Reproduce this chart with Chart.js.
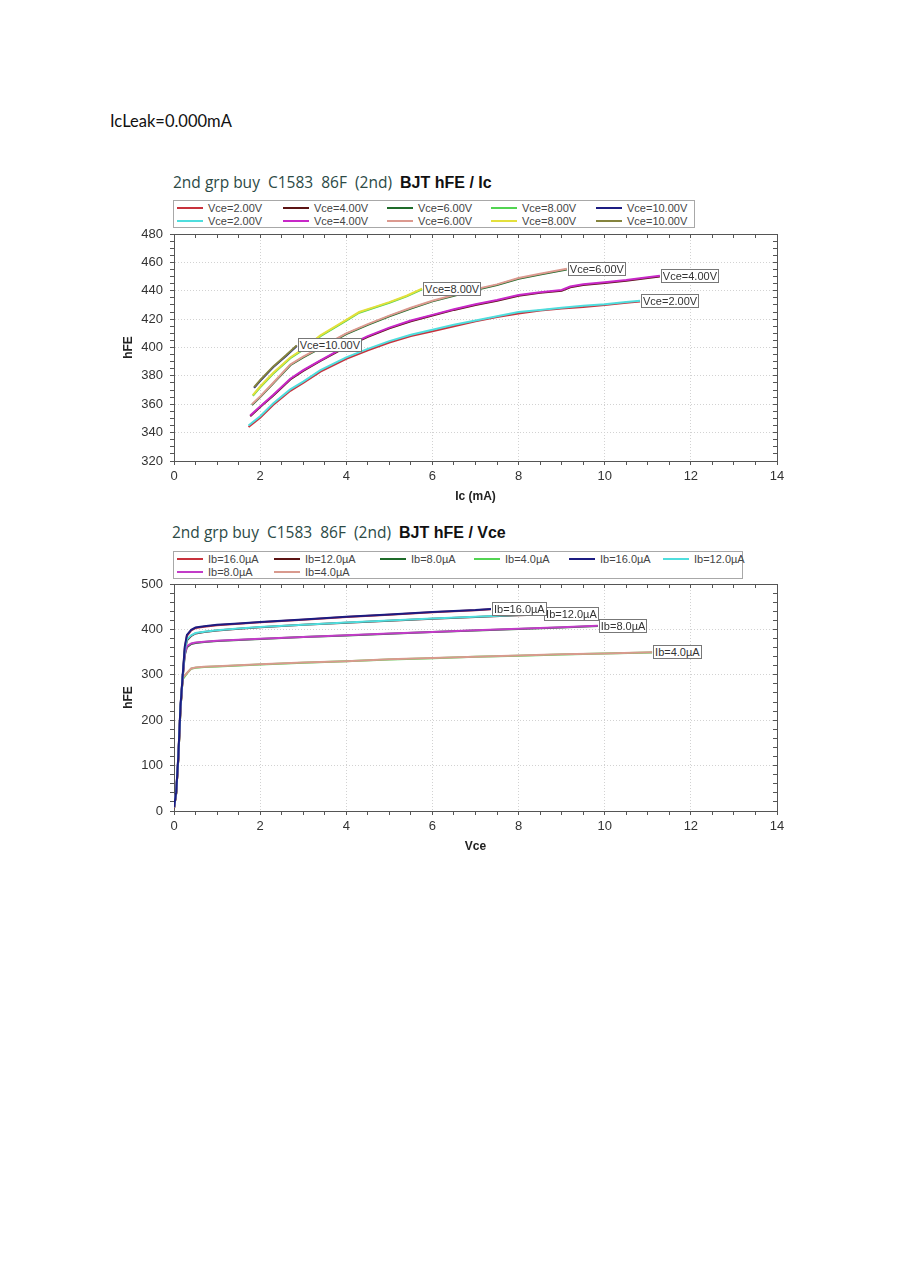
<!DOCTYPE html>
<html><head><meta charset="utf-8">
<script src="https://cdn.jsdelivr.net/npm/chart.js@4.4.0/dist/chart.umd.min.js"></script>
<style>
html,body{margin:0;padding:0;background:#fff;}
body{width:906px;height:1280px;position:relative;overflow:hidden;font-family:'Liberation Sans',Arial,sans-serif;}
#leak{position:absolute;left:110px;top:111px;font:16.5px Lato,'Open Sans',sans-serif;color:#111;white-space:nowrap;}
.ttl{position:absolute;white-space:pre;font:15.5px 'Open Sans',sans-serif;color:#2c4a46;line-height:20px;}
.ttl b{font:bold 16px 'Liberation Sans',Arial,sans-serif;color:#111;}
.leg{position:absolute;border:1px solid #a8a8a8;background:#fff;box-sizing:border-box;}
.li{position:absolute;font:11px 'Liberation Sans',Arial,sans-serif;color:#444;white-space:nowrap;line-height:12px;}
.li i{display:inline-block;width:26px;height:2px;vertical-align:middle;margin-right:5px;position:relative;top:-1px;}
canvas{position:absolute;}
.lbl{position:absolute;font:11px 'Liberation Sans',Arial,sans-serif;color:#333;background:#fff;border:1px solid #777;padding:0 1px;line-height:12px;white-space:nowrap;}
</style></head><body>
<div id="leak">IcLeak=0.000mA</div>
<div class="ttl" style="left:173px;top:172px;">2nd grp buy  C1583  86F  (2nd)  <b>BJT hFE / Ic</b></div>
<div class="leg" id="leg1" style="left:173px;top:200px;width:522px;height:28px;"></div>
<canvas id="c1" width="700" height="290" style="left:100px;top:226px;width:700px;height:290px;"></canvas>
<div class="ttl" style="left:172px;top:522px;">2nd grp buy  C1583  86F  (2nd)  <b>BJT hFE / Vce</b></div>
<div class="leg" id="leg2" style="left:173px;top:551px;width:570px;height:28px;"></div>
<canvas id="c2" width="700" height="290" style="left:100px;top:576px;width:700px;height:290px;"></canvas>
<script>
// ---------- Chart 1 : hFE vs Ic ----------
const vceNames = ['Vce=2.00V','Vce=4.00V','Vce=6.00V','Vce=8.00V','Vce=10.00V'];
const ic_v2  = [1.73,2.0,2.3,2.7,3.0,3.4,4.0,4.5,5.0,5.5,6.0,6.5,7.0,7.5,8.0,8.5,9.0,9.5,10.0,10.5,10.82];
const hfeA_v2= [344,350.5,359.5,369.5,375,383,392,398,403.5,408,411.5,415,418.5,421.5,424,426,427.5,428.5,430,431.5,432.5];
const hfeB_v2= [345,351.5,360.5,370.5,376,384,393,399,404.5,409,412.5,416,419,422,425,426.5,428,429.5,430.5,432,433];
const ic_v4  = [1.77,2.0,2.3,2.7,3.0,3.4,4.0,4.5,5.0,5.5,6.0,6.5,7.0,7.5,8.0,8.5,9.0,9.2,9.5,10.0,10.5,11.0,11.28];
const hfeA_v4= [351.5,358,366,377.5,383.5,390.5,400.5,407.5,413.5,418.5,422.5,426.5,430,433,436.5,438.5,440,442.5,444,445.5,447,449,450];
const hfeB_v4= [352,358.5,366.5,378,384,391,401,408,414,419,423,427,430.5,433.5,437,439,440.5,443,444.5,446,447.5,449.5,450.5];
const ic_v6  = [1.81,2.0,2.3,2.7,3.0,3.4,4.0,4.5,5.0,5.5,6.0,6.5,7.0,7.5,8.0,8.5,9.12];
const hfeA_v6= [359.5,365,374.5,387.5,393,399.5,409.5,416,422,427.5,432.5,436.5,440.5,444,448.5,451.5,455];
const hfeB_v6= [360,365.5,375,388,393.5,400,410,416.5,422.5,428,433,437,441,444.5,449,452,455.5];
const ic_v8  = [1.83,2.0,2.3,2.7,3.0,3.4,4.0,4.3,4.7,5.0,5.4,5.76];
const hfeA_v8= [366,372,381.5,392.5,398.5,408,419,424.5,428.5,431.5,436,441];
const hfeB_v8= [366.5,372.5,382,393,399,408.5,419.5,425,429,432,436.5,441.5];
const ic_v10 = [1.86,2.0,2.3,2.6,2.85];
const hfeA_v10=[371.5,376.5,386,394,401];
const hfeB_v10=[372,377,386.5,394.5,401.5];
const xTickLabels1 = [0,2,4,6,8,10,12,14];
const yTickLabels1 = [320,340,360,380,400,420,440,460,480];

// ---------- Chart 2 : hFE vs Vce ----------
const ibNames = ['Ib=16.0\u00b5A','Ib=12.0\u00b5A','Ib=8.0\u00b5A','Ib=4.0\u00b5A'];
const vce_i16 = [0,0.05,0.1,0.15,0.2,0.25,0.3,0.4,0.5,0.7,1.0,1.5,2.0,3.0,4.0,5.0,6.0,7.0,7.36];
const hfeA_i16= [6,38,115,225,292,358,386,398,403,406,409,412.5,416,421.5,427.5,432.5,438,442,444.5];
const hfeB_i16= [8,41,120,230,296,362,388,399,404,407,410,413,416.5,422,428,433,438.5,442.5,445];
const vce_i12 = [0,0.05,0.1,0.15,0.2,0.25,0.3,0.4,0.5,0.7,1.0,1.5,2.0,3.0,4.0,5.0,6.0,7.0,8.0,8.57];
const hfeA_i12= [6,38,115,225,292,352,376,386,391,394.5,397.5,401.5,405,410,414.5,419,423.5,427.5,431,433];
const hfeB_i12= [8,41,120,230,296,355,378,387,392,395,398,402,405.5,410.5,415,419.5,424,428,431.5,433.5];
const vce_i8  = [0,0.05,0.1,0.15,0.2,0.25,0.3,0.4,0.5,0.7,1.0,1.5,2.0,3.0,4.0,5.0,6.0,7.0,8.0,9.0,9.84];
const hfeA_i8 = [6,38,115,225,292,343,361,368,370,372.5,374.5,376.5,379,383,386.5,390.5,394,397.5,401,404,407.5];
const hfeB_i8 = [8,41,120,230,296,346,363,369,371,373,375,377,379.5,383.5,387,391,394.5,398,401.5,404.5,408];
const vce_i4  = [0,0.05,0.1,0.15,0.2,0.3,0.4,0.5,0.7,1.0,1.5,2.0,3.0,4.0,5.0,6.0,7.0,8.0,9.0,10.0,11.1];
const hfeA_i4 = [6,38,115,225,290,303,313.5,315.5,317,318.5,320.5,322.5,326.5,330,333.5,336.5,339.5,342,344.5,347,349];
const hfeB_i4 = [8,41,120,230,293,304,314,316,317.5,319,321,323,327,330,334,337,340,342.5,345,347,349.5];
const xTickLabels2 = [0,2,4,6,8,10,12,14];
const yTickLabels2 = [0,100,200,300,400,500];

// ---------- styles ----------
const colA1 = ['#c8323c','#5c1414','#1f6b2a','#52d452','#1c1c82'];
const colB1 = ['#4fdede','#c828c8','#dc9a90','#e4e03c','#85843e'];
const colA2 = ['#c8323c','#5c1414','#1f6b2a','#52d452'];
const colB2 = ['#1c1c82','#4fdede','#c23cc8','#d99a8e'];
const FONT = "'Liberation Sans', Arial, sans-serif";

function pts(xs, ys){ return xs.map((x,i)=>({x:x, y:ys[i]})); }
function ds(label, xs, ys, color, order, endLabel){
  return {label, data:pts(xs,ys), borderColor:color, backgroundColor:color, borderWidth:2,
    pointRadius:0, tension:0, fill:false, order, endLabel};
}

const setsA1 = [[ic_v2,hfeA_v2],[ic_v4,hfeA_v4],[ic_v6,hfeA_v6],[ic_v8,hfeA_v8],[ic_v10,hfeA_v10]];
const setsB1 = [[ic_v2,hfeB_v2],[ic_v4,hfeB_v4],[ic_v6,hfeB_v6],[ic_v8,hfeB_v8],[ic_v10,hfeB_v10]];
const data1 = [];
setsA1.forEach((s,i)=>data1.push(ds(vceNames[i],s[0],s[1],colA1[i],2,null)));
setsB1.forEach((s,i)=>data1.push(ds(vceNames[i],s[0],s[1],colB1[i],1,vceNames[i])));

const setsA2 = [[vce_i16,hfeA_i16],[vce_i12,hfeA_i12],[vce_i8,hfeA_i8],[vce_i4,hfeA_i4]];
const setsB2 = [[vce_i16,hfeB_i16],[vce_i12,hfeB_i12],[vce_i8,hfeB_i8],[vce_i4,hfeB_i4]];
const data2 = [];
setsA2.forEach((s,i)=>data2.push(ds(ibNames[i],s[0],s[1],colA2[i],2,null)));
setsB2.forEach((s,i)=>data2.push(ds(ibNames[i],s[0],s[1],colB2[i],1,ibNames[i])));

function scales(xmin,xmax,xstep,xLab,xTitle,ymin,ymax,ystep,yLab,yTitle){
  const tickFont = {family:FONT, size:13};
  const titleFont = {family:FONT, size:12, weight:'bold'};
  const gc = labs => c => (c.tick && labs.includes(c.tick.value)) ? '#d2d2d2' : 'rgba(0,0,0,0)';
  return {
    x:{type:'linear',position:'bottom',min:xmin,max:xmax,
      ticks:{stepSize:xstep,autoSkip:false,maxRotation:0,minRotation:0,color:'#333',font:tickFont,padding:4,
        callback:v=> xLab.includes(v) ? String(v) : ''},
      grid:{color:gc(xLab),tickColor:'#555',tickLength:4},
      border:{color:'#555',width:1,dash:[1,2]},
      title:{display:true,text:xTitle,color:'#222',font:titleFont,padding:{top:0,bottom:12}},
      afterFit:s=>{s.height=55; s.paddingLeft=0; s.paddingRight=0;}},
    x2:{type:'linear',position:'top',min:xmin,max:xmax,
      ticks:{display:false,stepSize:xstep,autoSkip:false},
      grid:{drawOnChartArea:false,tickColor:'#555',tickLength:-4},
      border:{color:'#555',width:1},
      afterFit:s=>{s.height=8; s.paddingLeft=0; s.paddingRight=0;}},
    y:{type:'linear',position:'left',min:ymin,max:ymax,
      ticks:{stepSize:ystep,autoSkip:false,color:'#333',font:tickFont,padding:7,
        callback:v=> yLab.includes(v) ? String(v) : ''},
      grid:{color:gc(yLab),tickColor:'#555',tickLength:4},
      border:{color:'#555',width:1,dash:[1,2]},
      title:{display:true,text:yTitle,color:'#222',font:titleFont,padding:{top:21,bottom:0}},
      afterFit:s=>{s.width=74; s.paddingTop=0; s.paddingBottom=0;}},
    y2:{type:'linear',position:'right',min:ymin,max:ymax,
      ticks:{display:false,stepSize:ystep,autoSkip:false},
      grid:{drawOnChartArea:false,tickColor:'#555',tickLength:-4},
      border:{color:'#555',width:1},
      afterFit:s=>{s.width=23; s.paddingTop=0; s.paddingBottom=0;}}
  };
}

const endLabels = {
  id:'endLabels',
  afterRender(chart){
    if (chart.$labelsDone) return;
    chart.$labelsDone = true;
    const cv = chart.canvas;
    const L = parseFloat(cv.style.left), T = parseFloat(cv.style.top);
    const idx = chart.data.datasets.map((d,i)=>i).reverse();
    idx.forEach(i=>{
      const d = chart.data.datasets[i];
      if (!d.endLabel) return;
      const meta = chart.getDatasetMeta(i);
      const p = meta.data[meta.data.length-1];
      const el = document.createElement('div');
      el.className = 'lbl';
      el.textContent = d.endLabel;
      el.style.left = (L + p.x + 1) + 'px';
      el.style.top = (T + p.y - 7) + 'px';
      document.body.appendChild(el);
    });
  }
};

function makeChart(id, datasets, sc){
  return new Chart(document.getElementById(id), {
    type:'line',
    data:{datasets},
    options:{responsive:false,animation:false,devicePixelRatio:1,
      layout:{padding:0,autoPadding:false},
      plugins:{legend:{display:false},tooltip:{enabled:false},title:{display:false}},
      scales:sc},
    plugins:[endLabels]
  });
}

makeChart('c1', data1, scales(0,14,0.5,xTickLabels1,'Ic (mA)',320,480,5,yTickLabels1,'hFE'));
makeChart('c2', data2, scales(0,14,0.5,xTickLabels2,'Vce',0,500,20,yTickLabels2,'hFE'));

// ---------- HTML legends ----------
function legend(boxId, items, xs){
  const box = document.getElementById(boxId);
  items.forEach((it,k)=>{
    const d = document.createElement('div');
    d.className = 'li';
    d.style.left = (xs[k%xs.length][0]-174) + 'px';
    d.style.top = (xs[k%xs.length][1]) + 'px';
    d.innerHTML = '<i style="background:'+it.c+'"></i>';
    d.appendChild(document.createTextNode(it.t));
    box.appendChild(d);
  });
}
const legPos1 = [[177,1],[283,1],[387,1],[491,1],[596,1],[177,14],[283,14],[387,14],[491,14],[596,14]];
const legItems1 = [];
vceNames.forEach((n,i)=>legItems1.push({t:n,c:colA1[i]}));
vceNames.forEach((n,i)=>legItems1.push({t:n,c:colB1[i]}));
legend('leg1', legItems1, legPos1);
const legPos2 = [[177,1],[274,1],[380,1],[474,1],[569,1],[663,1],[177,14],[274,14]];
const legItems2 = [];
ibNames.forEach((n,i)=>legItems2.push({t:n,c:colA2[i]}));
ibNames.forEach((n,i)=>legItems2.push({t:n,c:colB2[i]}));
legend('leg2', legItems2, legPos2);
</script>
</body></html>
